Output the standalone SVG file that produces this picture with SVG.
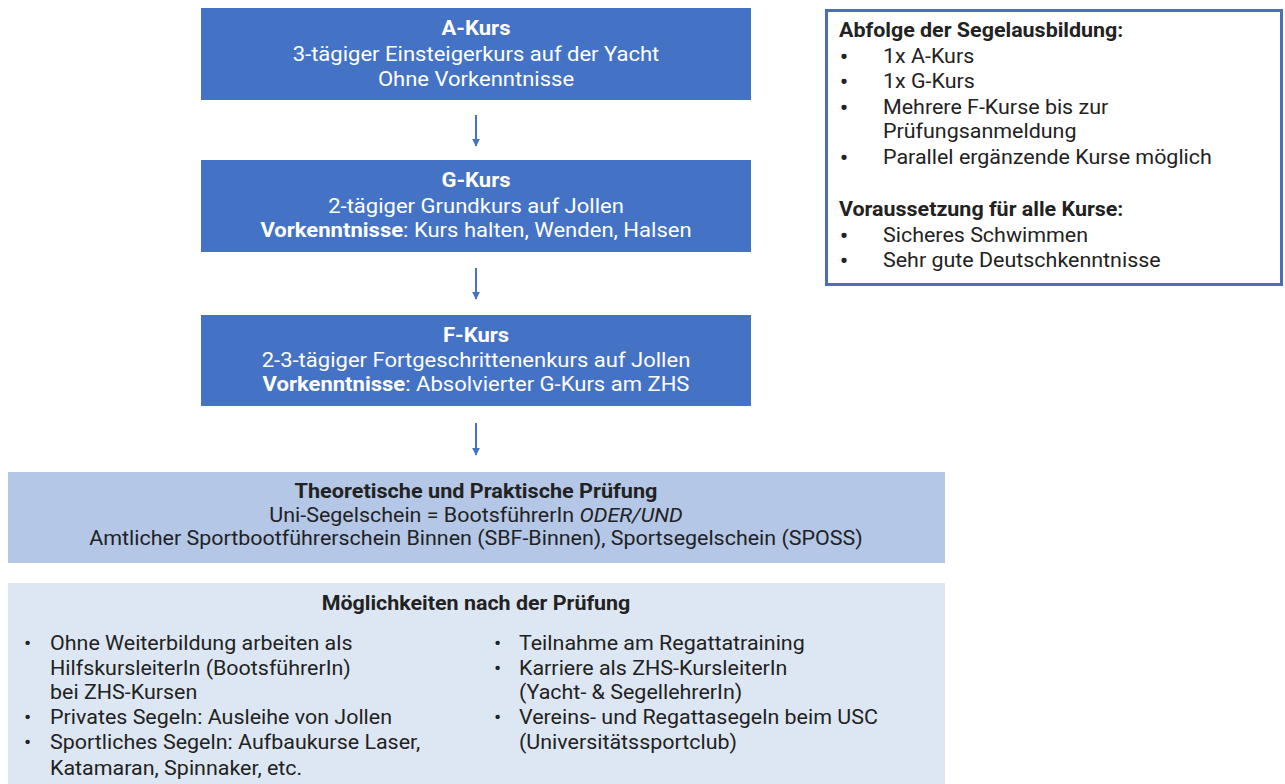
<svg xmlns="http://www.w3.org/2000/svg" width="1285" height="784" viewBox="0 0 1285 784">
<defs>
<marker id="ah" viewBox="0 0 10 10" refX="9" refY="5" markerWidth="4" markerHeight="4" orient="auto" markerUnits="strokeWidth">
<path d="M0,0 L10,5 L0,10 z" fill="#4472c4"/>
</marker>
</defs>
<style>
text{font-family:Roboto,"Liberation Sans",sans-serif;font-size:19.5px}
.dark{fill:#4472c4}
.w{fill:#ffffff}
.c{text-anchor:middle}
.b{font-weight:bold}
.t{fill:#222222}
.bul{font-size:22px;font-weight:bold}
.conn{stroke:#4472c4;stroke-width:2;fill:none}
</style>
<rect width="1285" height="784" fill="#ffffff"/>
<g id="connectors">
<line class="conn" x1="476" y1="115" x2="476" y2="146" marker-end="url(#ah)"/>
<line class="conn" x1="476" y1="268" x2="476" y2="299" marker-end="url(#ah)"/>
<line class="conn" x1="476" y1="423" x2="476" y2="455" marker-end="url(#ah)"/>
</g>
<g id="a-kurs">
<rect class="dark" x="201" y="8" width="550" height="92"/>
<text class="w c b" transform="matrix(1.13 0 0 1 476 35)">A-Kurs</text>
<text class="w c" transform="matrix(1.13 0 0 1 476 61)">3-tägiger Einsteigerkurs auf der Yacht</text>
<text class="w c" transform="matrix(1.13 0 0 1 476 86)">Ohne Vorkenntnisse</text>
</g>
<g id="g-kurs">
<rect class="dark" x="201" y="160" width="550" height="92"/>
<text class="w c b" transform="matrix(1.13 0 0 1 476 187)">G-Kurs</text>
<text class="w c" transform="matrix(1.13 0 0 1 476 213)">2-tägiger Grundkurs auf Jollen</text>
<text class="w c" transform="matrix(1.13 0 0 1 476 237)"><tspan class="b">Vorkenntnisse</tspan>: Kurs halten, Wenden, Halsen</text>
</g>
<g id="f-kurs">
<rect class="dark" x="201" y="315" width="550" height="91"/>
<text class="w c b" transform="matrix(1.13 0 0 1 476 342)">F-Kurs</text>
<text class="w c" transform="matrix(1.13 0 0 1 476 367)">2-3-tägiger Fortgeschrittenenkurs auf Jollen</text>
<text class="w c" transform="matrix(1.13 0 0 1 476 391)"><tspan class="b">Vorkenntnisse</tspan>: Absolvierter G-Kurs am ZHS</text>
</g>
<g id="info">
<rect x="826.5" y="10.5" width="455" height="274" fill="#ffffff" stroke="#4a6fb5" stroke-width="3"/>
<text class="t b" transform="matrix(1.1 0 0 1 839 37)">Abfolge der Segelausbildung:</text>
<text class="t bul" transform="translate(840 64)">•</text><text class="t" transform="matrix(1.1 0 0 1 883 63)">1x A-Kurs</text>
<text class="t bul" transform="translate(840 89)">•</text><text class="t" transform="matrix(1.1 0 0 1 883 88)">1x G-Kurs</text>
<text class="t bul" transform="translate(840 115)">•</text><text class="t" transform="matrix(1.1 0 0 1 883 114)">Mehrere F-Kurse bis zur</text>
<text class="t" transform="matrix(1.1 0 0 1 883 138)">Prüfungsanmeldung</text>
<text class="t bul" transform="translate(840 165)">•</text><text class="t" transform="matrix(1.1 0 0 1 883 164)">Parallel ergänzende Kurse möglich</text>
<text class="t b" transform="matrix(1.1 0 0 1 839 216)">Voraussetzung für alle Kurse:</text>
<text class="t bul" transform="translate(840 243)">•</text><text class="t" transform="matrix(1.1 0 0 1 883 242)">Sicheres Schwimmen</text>
<text class="t bul" transform="translate(840 268)">•</text><text class="t" transform="matrix(1.1 0 0 1 883 267)">Sehr gute Deutschkenntnisse</text>
</g>
<g id="pruefung">
<rect x="8" y="472" width="937" height="91" fill="#b4c7e7"/>
<text class="t c b" transform="matrix(1.11 0 0 1 476 498)">Theoretische und Praktische Prüfung</text>
<text class="t c" transform="matrix(1.1 0 0 1 476 522)">Uni-Segelschein = BootsführerIn <tspan font-style="italic">ODER/UND</tspan></text>
<text class="t c" transform="matrix(1.1 0 0 1 476 545)">Amtlicher Sportbootführerschein Binnen (SBF-Binnen), Sportsegelschein (SPOSS)</text>
</g>
<g id="moeglichkeiten">
<rect x="8" y="583" width="937" height="201" fill="#dde7f3"/>
<text class="t c b" transform="matrix(1.1 0 0 1 476 610)">Möglichkeiten nach der Prüfung</text>
<text class="t" transform="matrix(1.1 0 0 1 24 650)">•</text><text class="t" transform="matrix(1.1 0 0 1 50 650)">Ohne Weiterbildung arbeiten als</text>
<text class="t" transform="matrix(1.1 0 0 1 50 675)">HilfskursleiterIn (BootsführerIn)</text>
<text class="t" transform="matrix(1.1 0 0 1 50 699)">bei ZHS-Kursen</text>
<text class="t" transform="matrix(1.1 0 0 1 24 724)">•</text><text class="t" transform="matrix(1.1 0 0 1 50 724)">Privates Segeln: Ausleihe von Jollen</text>
<text class="t" transform="matrix(1.1 0 0 1 24 749)">•</text><text class="t" transform="matrix(1.1 0 0 1 50 749)">Sportliches Segeln: Aufbaukurse Laser,</text>
<text class="t" transform="matrix(1.1 0 0 1 50 775)">Katamaran, Spinnaker, etc.</text>
<text class="t" transform="matrix(1.1 0 0 1 494 650)">•</text><text class="t" transform="matrix(1.1 0 0 1 519 650)">Teilnahme am Regattatraining</text>
<text class="t" transform="matrix(1.1 0 0 1 494 675)">•</text><text class="t" transform="matrix(1.1 0 0 1 519 675)">Karriere als ZHS-KursleiterIn</text>
<text class="t" transform="matrix(1.1 0 0 1 519 699)">(Yacht- &amp; SegellehrerIn)</text>
<text class="t" transform="matrix(1.1 0 0 1 494 724)">•</text><text class="t" transform="matrix(1.1 0 0 1 519 724)">Vereins- und Regattasegeln beim USC</text>
<text class="t" transform="matrix(1.1 0 0 1 519 749)">(Universitätssportclub)</text>
</g>
</svg>
